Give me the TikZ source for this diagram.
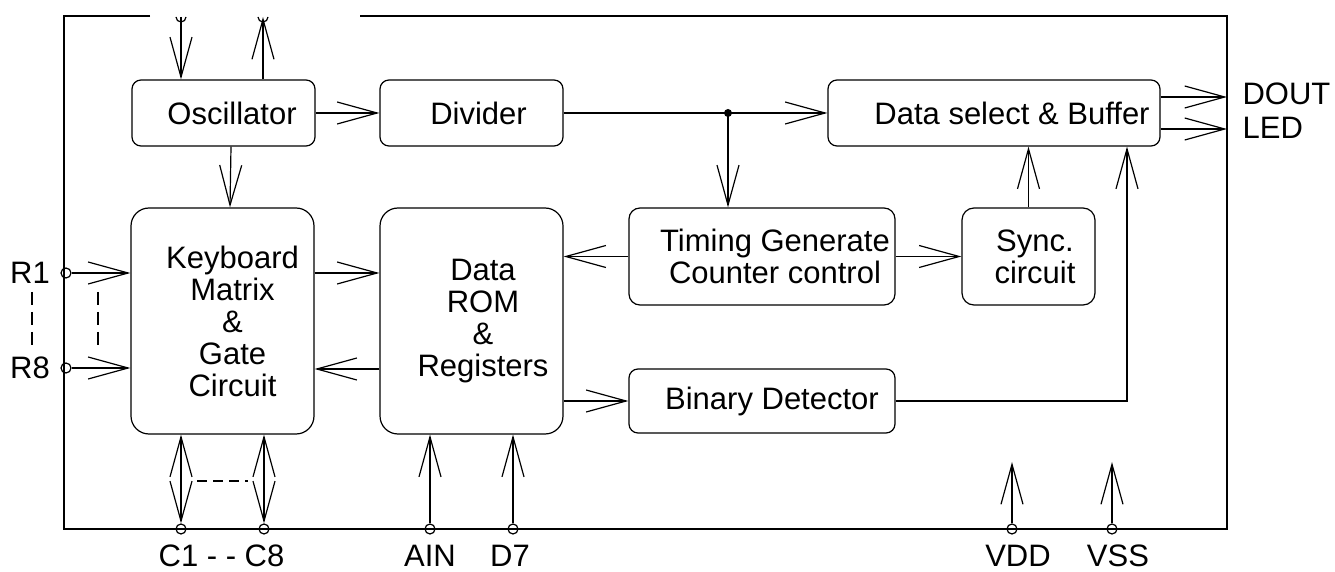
\documentclass[tikz,border=0pt]{standalone}
\usepackage{fontspec}
\setmainfont{Liberation Sans}
\usetikzlibrary{arrows.meta}
\begin{document}
\begin{tikzpicture}[x=0.5pt,y=-0.5pt,line width=0.6pt,
    font=\fontsize{15.5}{16}\selectfont,
    blk/.style={draw,rounded corners=4.5pt,inner sep=0pt},
    txt/.style={align=center,inner sep=0pt},
    pin/.style={draw,circle,minimum size=5pt,inner sep=0pt},
    arr/.style={-{Straight Barb[length=20pt,width=11pt]}},
    darr/.style={{Straight Barb[length=20pt,width=11pt]}-{Straight Barb[length=20pt,width=11pt]}}]
  \useasboundingbox (0,0) rectangle (1335,572);
  \draw (150,16) -| (64,529) -| (1227,16) -- (360,16);
  \node[blk,minimum width=91.5pt,minimum height=33pt,label={[txt,xshift=4.25pt]center:Oscillator}] (osc) at (223.5,113) {};
  \node[blk,minimum width=91.5pt,minimum height=33pt,label={[txt,xshift=3.5pt]center:Divider}] (div) at (471.5,113) {};
  \node[blk,minimum width=166pt,minimum height=33pt,label={[txt,xshift=9pt]center:Data select \& Buffer}] (dsel) at (994,113) {};
  \node[blk,rounded corners=9pt,minimum width=91.5pt,minimum height=113pt,label={[txt,xshift=5pt]center:Keyboard\\Matrix\\\&\\Gate\\Circuit}] (kbd) at (222.5,321) {};
  \node[blk,rounded corners=9pt,minimum width=91.5pt,minimum height=113pt,label={[txt,xshift=5.75pt]center:Data\\ROM\\\&\\Registers}] (rom) at (471.5,321) {};
  \node[blk,rounded corners=5.5pt,minimum width=133pt,minimum height=48.5pt,label={[txt,xshift=6.5pt]center:Timing Generate\\Counter control}] (tim) at (762,256.5) {};
  \node[blk,rounded corners=6pt,minimum width=66.5pt,minimum height=48.5pt,label={[txt,xshift=3.25pt]center:Sync.\\circuit}] (sync) at (1028.5,256.5) {};
  \node[blk,minimum width=133pt,minimum height=32pt,label={[txt,xshift=5pt]center:Binary Detector}] (bin) at (762,401) {};
  \coordinate (xin) at (181,17);
  \coordinate (xout) at (263,17);
  \coordinate (jn) at (728,113);
  \coordinate (dout) at (1227,97);
  \coordinate (led) at (1227,129);
  \coordinate (vddend) at (1012,462);
  \coordinate (vssend) at (1112,462);
  \node[pin] (r1) at (66,273) {};
  \node[pin] (r8) at (66,368) {};
  \node[pin] (c1) at (181,529) {};
  \node[pin] (c8) at (264,529) {};
  \node[pin] (ain) at (430,529) {};
  \node[pin] (d7) at (513,529) {};
  \node[pin] (vdd) at (1012,529) {};
  \node[pin] (vss) at (1112,529) {};
  \draw ([xshift=-2.5pt]xin) arc[start angle=180,end angle=360,radius=2.5pt];
  \draw ([xshift=-2.5pt]xout) arc[start angle=180,end angle=360,radius=2.5pt];
  \draw[arr] (xin) -- (xin |- osc.north);
  \draw[arr] (xout |- osc.north) -- (xout);
  \draw[arr] (osc.east) -- (div.west);
  \draw (div.east) -- (jn);
  \fill (jn) circle[radius=2pt];
  \draw[arr] (jn) -- (dsel.west);
  \draw[arr] (jn) -- (jn |- tim.north);
  \draw[arr] ([xshift=3.75pt]osc.south) -- ([xshift=3.75pt]kbd.north);
  \draw[arr] ([yshift=24pt]kbd.east) -- ([yshift=24pt]rom.west);
  \draw[arr] ([yshift=-24pt]rom.west) -- ([yshift=-24pt]kbd.east);
  \draw[arr] (tim.west) -- (tim.west -| rom.east);
  \draw[arr] (tim.east) -- (sync.west);
  \draw[arr] (sync.north) -- (sync.north |- dsel.south);
  \draw[arr] (bin.west -| rom.east) -- (bin.west);
  \draw[arr] (bin.east) -| ([xshift=66.5pt]dsel.south);
  \draw[arr] (dsel.east |- dout) -- (dout);
  \draw[arr] (dsel.east |- led) -- (led);
  \draw[arr] (r1) -- (r1 -| kbd.west);
  \draw[arr] (r8) -- (r8 -| kbd.west);
  \draw[darr] (c1) -- (c1 |- kbd.south);
  \draw[darr] (c8) -- (c8 |- kbd.south);
  \draw[arr] (ain) -- (ain |- rom.south);
  \draw[arr] (d7) -- (d7 |- rom.south);
  \draw[arr] (vdd) -- (vddend);
  \draw[arr] (vss) -- (vssend);
  \draw[dash pattern=on 6.5pt off 3.5pt] (98,292) -- (98,347);
  \draw[dash pattern=on 6.5pt off 3.5pt] (32,292) -- (32,347);
  \draw[dash pattern=on 5pt off 3pt] (197,481) -- (248,481);
  \node (r1lbl) at (30,273) {R1};
  \node (r8lbl) at (30,368) {R8};
  \node[anchor=west,inner sep=0pt] (doutlbl) at (1242,94) {DOUT};
  \node[anchor=west,inner sep=0pt] (ledlbl) at (1242,128) {LED};
  \node[inner sep=0pt] (clbl) at (221.5,556) {C1 - - C8};
  \node[inner sep=0pt] (ainlbl) at (430,556) {AIN};
  \node[inner sep=0pt] (d7lbl) at (510,556) {D7};
  \node[inner sep=0pt] (vddlbl) at (1018,556) {VDD};
  \node[inner sep=0pt] (vsslbl) at (1118,556) {VSS};
\end{tikzpicture}
\end{document}
